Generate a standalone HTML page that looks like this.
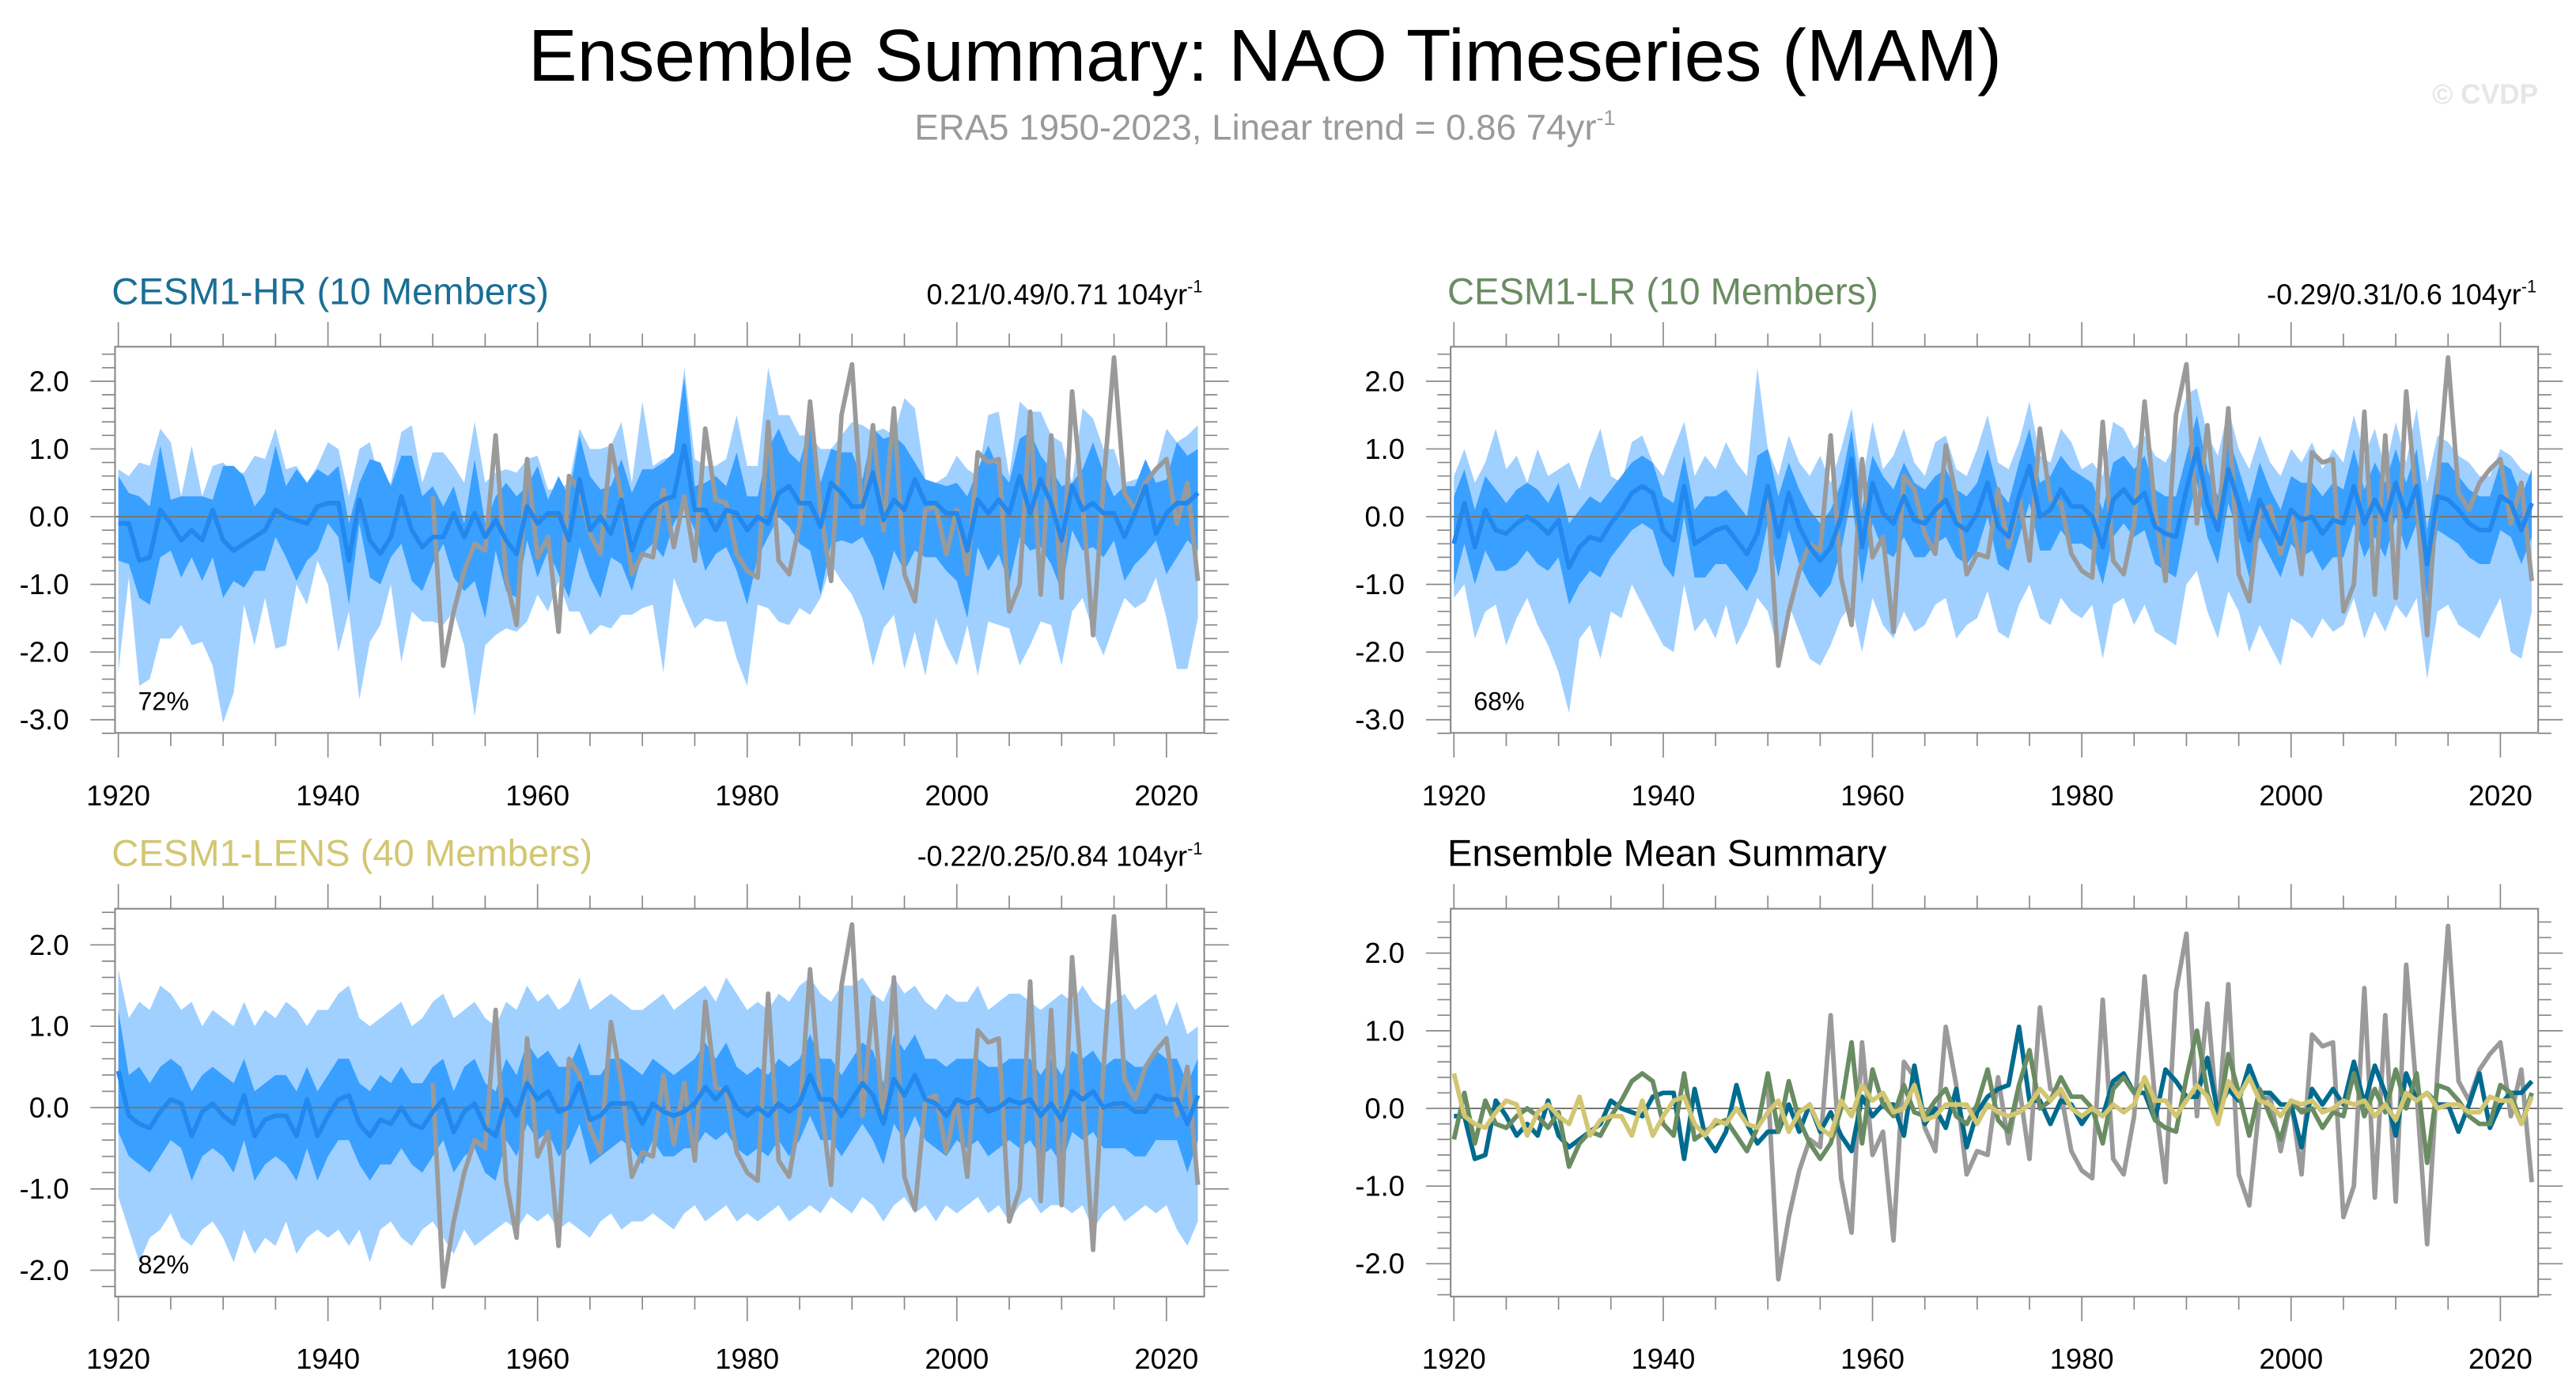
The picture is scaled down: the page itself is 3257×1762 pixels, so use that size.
<!DOCTYPE html>
<html><head><meta charset="utf-8"><style>
html,body{margin:0;padding:0;background:#fff;}
svg{display:block;font-family:"Liberation Sans",Arial,sans-serif;}
</style></head><body>
<svg id="chart" width="3257" height="1762" viewBox="0 0 1568 848.3" xmlns="http://www.w3.org/2000/svg">
<text x="770" y="49" font-size="44.6" text-anchor="middle" fill="#000">Ensemble Summary: NAO Timeseries (MAM)</text>
<text x="770" y="85" font-size="22" text-anchor="middle" fill="#9a9a9a">ERA5 1950-2023, Linear trend = 0.86 74yr<tspan dy="-9" font-size="13">-1</tspan></text>
<text x="1545" y="63" font-size="17" text-anchor="end" fill="#e6e6e6" font-weight="bold">© CVDP</text>
</svg>
<script>
const years = [];
for (let y = 1920; y <= 2023; y++) years.push(y);
const eraYears = [];
for (let y = 1950; y <= 2023; y++) eraYears.push(y);

const era5 = [0.3,-2.2,-1.4,-0.8,-0.4,-0.5,1.2,-0.9,-1.6,0.85,-0.6,-0.3,-1.7,0.6,0.4,-0.25,-0.55,1.05,0.3,-0.85,-0.55,-0.6,0.4,-0.45,0.3,-0.65,1.3,0.25,0.2,-0.55,-0.8,-0.9,1.4,-0.65,-0.85,-0.1,1.7,0.1,-0.95,1.5,2.25,-0.1,1.35,-0.2,1.6,-0.85,-1.25,0.1,0.15,-0.55,0.1,-0.85,0.95,0.8,0.85,-1.4,-1.0,1.55,-1.15,1.2,-1.2,1.85,0.2,-1.75,0.5,2.35,0.35,0.1,0.5,0.7,0.85,-0.1,0.5,-0.95];

const meanHR = [-0.1,-0.1,-0.65,-0.6,0.1,-0.1,-0.35,-0.2,-0.35,0.1,-0.35,-0.5,-0.4,-0.3,-0.2,0.1,0.0,-0.05,-0.1,0.15,0.2,0.2,-0.65,0.25,-0.35,-0.55,-0.3,0.3,-0.2,-0.45,-0.3,-0.3,0.05,-0.3,0.05,-0.3,-0.05,-0.35,-0.55,0.15,-0.1,0.05,0.05,-0.35,0.55,-0.2,0.0,-0.25,0.25,-0.5,-0.05,0.15,0.25,0.3,1.05,0.1,0.1,-0.2,0.1,0.05,-0.2,0.0,-0.1,0.35,0.45,0.2,0.2,-0.15,0.5,0.35,0.15,0.15,0.65,-0.05,0.25,0.1,0.55,0.2,0.2,0.05,0.05,-0.5,0.25,0.05,0.25,0.05,0.6,0.05,0.55,0.2,-0.35,0.45,0.1,0.2,0.05,0.05,-0.3,0.05,0.45,-0.25,0.05,0.2,0.2,0.35];
const meanLR = [-0.4,0.2,-0.45,0.1,-0.2,-0.25,-0.1,0.0,-0.1,-0.25,-0.05,-0.75,-0.45,-0.3,-0.35,-0.1,0.1,0.35,0.45,0.35,-0.2,-0.35,0.45,-0.4,-0.3,-0.2,-0.15,-0.35,-0.55,-0.25,0.45,-0.3,0.35,-0.15,-0.45,-0.65,-0.45,0.0,0.85,-0.45,0.5,0.05,-0.1,0.3,-0.05,-0.1,0.1,0.25,-0.1,-0.2,0.05,0.5,-0.15,-0.3,0.3,0.75,0.0,0.1,0.4,0.15,0.15,0.0,-0.45,0.25,0.4,0.2,0.35,-0.15,-0.25,-0.3,0.4,1.0,0.2,-0.2,0.7,0.2,-0.35,0.25,-0.1,-0.4,0.1,-0.05,0.0,-0.25,-0.05,-0.1,0.45,-0.1,0.25,-0.05,0.5,0.0,0.45,-0.7,0.3,0.25,0.1,-0.1,-0.2,-0.2,0.3,0.2,-0.2,0.2];
const meanLENS = [0.45,-0.1,-0.2,-0.25,-0.05,0.1,0.05,-0.35,-0.05,0.05,-0.1,-0.2,0.15,-0.35,-0.15,-0.1,-0.1,-0.35,0.1,-0.35,-0.1,0.1,0.15,-0.2,-0.35,-0.15,-0.2,0.0,-0.2,-0.25,-0.05,0.1,-0.3,-0.05,0.05,-0.25,-0.35,0.1,-0.1,0.3,0.1,0.2,-0.05,0.0,0.3,-0.15,-0.1,0.05,0.05,0.05,-0.2,0.05,-0.05,-0.1,-0.05,0.05,0.25,0.1,0.25,0.0,-0.1,0.0,-0.1,0.05,-0.05,0.05,0.4,0.1,0.1,-0.1,0.1,0.3,0.15,-0.2,0.35,0.15,0.4,0.1,0.05,-0.1,0.1,0.05,0.1,-0.05,0.0,0.1,0.05,0.1,-0.1,0.05,-0.15,0.2,0.1,0.2,0.0,0.05,0.05,-0.05,-0.05,0.15,0.1,0.1,-0.2,0.15];

const outerHiHR = [0.7,0.6,0.8,0.75,1.3,1.1,0.3,1.05,0.3,0.75,0.8,0.65,0.65,0.9,0.85,1.3,0.7,0.75,0.5,0.75,1.1,1.0,0.3,1.0,1.1,0.5,0.5,1.25,1.35,0.5,0.95,0.95,0.75,0.5,1.4,0.5,0.65,0.7,0.65,0.85,0.9,0.4,0.4,0.5,1.3,1.0,1.0,1.05,1.4,0.5,1.7,0.75,0.85,0.9,2.2,0.85,0.75,0.75,0.85,1.5,0.75,0.75,2.2,1.5,1.5,1.2,1.2,1.0,1.0,1.2,1.4,1.35,1.25,1.3,1.2,1.75,1.6,0.55,0.5,0.6,0.9,0.7,0.6,1.5,1.55,0.6,1.7,1.55,1.55,1.2,1.1,0.5,1.6,1.45,1.0,1.0,0.5,0.55,0.6,0.7,1.3,1.1,1.2,1.35];
const outerLoHR = [-2.3,-0.9,-2.5,-2.4,-1.8,-1.8,-1.6,-1.9,-1.85,-2.2,-3.05,-2.6,-1.3,-1.9,-1.2,-1.95,-1.9,-1.0,-1.3,-0.65,-1.0,-2.0,-1.4,-2.7,-1.85,-1.6,-1.0,-2.15,-1.4,-1.55,-1.55,-1.6,-1.4,-1.9,-2.95,-1.9,-1.75,-1.65,-1.7,-1.55,-1.15,-1.4,-0.95,-1.4,-1.4,-1.75,-1.6,-1.65,-1.45,-1.45,-1.35,-1.3,-2.3,-0.9,-1.3,-1.65,-1.5,-1.55,-1.55,-2.1,-2.5,-1.3,-1.35,-1.55,-1.6,-1.35,-1.45,-1.2,-0.7,-0.95,-1.15,-1.5,-2.2,-1.65,-1.45,-2.25,-1.7,-2.35,-1.5,-1.9,-2.2,-1.6,-2.35,-1.55,-1.6,-1.65,-2.2,-1.9,-1.55,-1.6,-2.2,-1.4,-1.2,-1.7,-2.05,-1.6,-1.2,-1.35,-1.25,-0.9,-1.5,-2.25,-2.25,-1.5];
const innerHiHR = [0.6,0.35,0.3,0.15,1.05,0.25,0.3,0.3,0.3,0.25,0.75,0.75,0.6,0.15,0.35,1.05,0.45,0.7,0.5,0.7,0.6,0.75,-0.1,0.5,0.85,0.8,0.45,0.9,0.9,0.3,0.45,0.15,0.45,-0.1,0.85,-0.1,0.3,0.5,0.3,0.45,0.75,0.25,0.6,0.3,1.2,0.6,0.4,0.45,0.85,0.35,0.7,0.7,0.8,0.95,2.05,0.45,0.5,0.6,0.45,0.95,0.3,0.3,1.0,1.3,0.95,0.8,1.35,0.5,1.0,0.95,0.95,0.55,1.3,1.15,1.2,1.05,0.8,0.55,0.5,0.45,0.5,0.3,0.7,1.05,0.7,0.5,1.15,1.25,0.9,0.7,0.45,0.5,0.7,1.1,0.65,0.3,0.45,0.45,0.85,0.5,0.55,1.1,0.9,1.0];
const innerLoHR = [-0.65,-0.7,-1.2,-1.3,-0.6,-0.5,-0.9,-0.6,-0.95,-0.6,-1.2,-0.95,-1.05,-0.8,-0.8,-0.3,-0.6,-0.95,-0.65,-0.5,-0.1,-0.3,-1.3,-0.1,-0.9,-1.0,-0.6,-0.4,-0.95,-1.1,-0.7,-0.4,-0.9,-1.1,-0.95,-1.5,-0.5,-1.1,-1.2,-0.35,-0.9,-0.5,-0.85,-1.2,-0.45,-0.9,-1.2,-0.6,-0.7,-1.1,-0.55,-0.4,-0.6,-0.1,0.15,-0.2,-0.8,-0.55,-0.45,-0.8,-1.3,-0.6,-0.3,0.0,-0.15,-0.4,-0.5,-1.15,-0.4,-0.35,-0.4,-0.3,-0.6,-1.1,-0.5,-0.8,-0.5,-0.6,-0.6,-0.8,-0.95,-1.5,-0.45,-0.8,-0.55,-1.0,-0.3,-0.5,-0.45,-0.7,-1.1,-0.2,-0.5,-0.45,-0.6,-0.35,-0.95,-0.7,-0.55,-0.35,-0.85,-0.6,-0.35,-0.5];

const outerHiLR = [0.6,1.0,0.5,0.8,1.3,0.7,0.9,0.5,1.0,0.6,0.7,0.8,0.4,0.9,1.3,0.6,0.5,1.1,1.2,0.8,0.6,1.0,1.4,0.6,0.9,0.7,1.1,0.8,0.6,2.2,1.0,0.6,1.2,0.8,0.6,0.9,0.5,1.0,1.6,0.5,1.4,0.7,0.9,1.3,0.8,0.6,1.1,1.2,0.7,0.6,1.0,1.5,0.8,0.7,1.1,1.7,0.9,0.8,1.3,1.1,0.7,0.8,0.6,1.4,1.3,1.0,1.2,0.9,0.8,1.1,1.8,1.9,1.2,0.9,1.6,1.0,0.7,1.2,0.8,0.6,1.0,0.8,1.1,0.7,1.0,0.8,1.5,0.9,1.3,0.7,1.4,0.8,1.6,0.5,1.2,1.1,0.9,0.8,0.6,0.6,1.0,0.9,0.7,0.6];
const outerLoLR = [-1.2,-1.0,-1.8,-1.4,-1.3,-1.9,-1.5,-1.2,-1.6,-1.9,-2.3,-2.9,-1.8,-1.6,-2.1,-1.4,-1.5,-1.0,-1.3,-1.6,-1.9,-2.0,-1.0,-1.7,-1.5,-1.8,-1.3,-1.9,-1.6,-1.2,-1.4,-2.0,-1.3,-1.7,-2.1,-2.2,-1.9,-1.5,-1.3,-2.0,-1.2,-1.6,-1.8,-1.4,-1.7,-1.6,-1.3,-1.2,-1.8,-1.6,-1.5,-1.1,-1.7,-1.8,-1.3,-1.0,-1.5,-1.6,-1.2,-1.4,-1.5,-1.3,-2.1,-1.3,-1.2,-1.6,-1.3,-1.7,-1.8,-1.9,-1.0,-0.8,-1.4,-1.8,-1.1,-1.4,-2.0,-1.6,-1.9,-2.2,-1.5,-1.6,-1.8,-1.5,-1.7,-1.6,-1.2,-1.8,-1.4,-1.7,-1.3,-1.5,-1.2,-2.4,-1.4,-1.3,-1.6,-1.7,-1.8,-1.5,-1.2,-2.0,-2.1,-1.4];
const innerHiLR = [0.3,0.7,0.1,0.6,0.4,0.2,0.4,0.5,0.4,0.2,0.5,-0.1,0.1,0.3,0.2,0.4,0.6,0.8,0.9,0.8,0.3,0.2,0.9,0.1,0.3,0.3,0.4,0.2,0.0,0.9,1.0,0.3,0.8,0.4,0.1,-0.1,0.1,0.5,1.3,0.1,0.9,0.6,0.4,0.8,0.5,0.4,0.6,0.7,0.4,0.3,0.5,1.0,0.4,0.2,0.8,1.3,0.5,0.6,0.9,0.7,0.6,0.5,0.1,0.8,0.9,0.7,0.9,0.4,0.3,0.3,0.9,1.5,0.7,0.3,1.2,0.7,0.2,0.8,0.4,0.1,0.6,0.5,0.5,0.3,0.5,0.4,1.0,0.4,0.8,0.5,1.0,0.5,1.0,-0.2,0.8,0.8,0.6,0.4,0.3,0.3,0.8,0.7,0.3,0.7];
const innerLoLR = [-1.0,-0.4,-1.0,-0.5,-0.8,-0.8,-0.7,-0.5,-0.7,-0.8,-0.6,-1.3,-1.0,-0.8,-0.9,-0.6,-0.4,-0.2,-0.1,-0.2,-0.7,-0.9,0.0,-0.9,-0.9,-0.7,-0.7,-0.9,-1.1,-0.8,-0.1,-0.9,-0.2,-0.7,-1.0,-1.2,-1.0,-0.5,0.3,-1.0,-0.1,-0.5,-0.6,-0.3,-0.6,-0.6,-0.4,-0.3,-0.6,-0.7,-0.5,0.0,-0.7,-0.8,-0.3,0.2,-0.5,-0.5,-0.2,-0.4,-0.4,-0.5,-1.0,-0.3,-0.1,-0.3,-0.2,-0.7,-0.8,-0.9,-0.1,0.5,-0.3,-0.7,0.2,-0.3,-0.9,-0.3,-0.6,-0.9,-0.4,-0.6,-0.5,-0.8,-0.6,-0.6,-0.1,-0.6,-0.3,-0.6,0.0,-0.5,-0.1,-1.2,-0.2,-0.3,-0.4,-0.6,-0.7,-0.7,-0.2,-0.3,-0.7,-0.3];

const outerHiLENS = [1.7,1.1,1.3,1.2,1.5,1.4,1.2,1.3,1.0,1.2,1.1,1.0,1.3,1.0,1.2,1.1,1.3,1.2,1.0,1.2,1.2,1.4,1.5,1.1,1.0,1.1,1.2,1.3,1.0,1.1,1.3,1.4,1.1,1.2,1.3,1.1,1.0,1.3,1.2,1.5,1.3,1.4,1.2,1.3,1.6,1.2,1.3,1.4,1.3,1.2,1.2,1.3,1.4,1.2,1.3,1.4,1.5,1.3,1.6,1.4,1.2,1.3,1.2,1.4,1.3,1.5,1.6,1.4,1.3,1.5,1.5,1.6,1.4,1.3,1.6,1.4,1.5,1.3,1.2,1.4,1.3,1.3,1.5,1.2,1.3,1.4,1.4,1.3,1.2,1.3,1.4,1.3,1.5,1.3,1.2,1.3,1.4,1.2,1.3,1.4,1.0,1.3,0.9,1.0];
const outerLoLENS = [-1.1,-1.5,-1.9,-1.6,-1.5,-1.3,-1.6,-1.7,-1.5,-1.4,-1.6,-1.9,-1.5,-1.8,-1.6,-1.7,-1.4,-1.8,-1.6,-1.5,-1.6,-1.5,-1.7,-1.5,-1.9,-1.5,-1.4,-1.6,-1.7,-1.5,-1.4,-1.6,-1.8,-1.5,-1.7,-1.6,-1.5,-1.4,-1.5,-1.3,-1.4,-1.3,-1.5,-1.4,-1.5,-1.6,-1.4,-1.3,-1.5,-1.4,-1.4,-1.3,-1.4,-1.5,-1.3,-1.2,-1.4,-1.3,-1.2,-1.4,-1.3,-1.4,-1.3,-1.2,-1.4,-1.3,-1.2,-1.3,-1.1,-1.2,-1.3,-1.1,-1.2,-1.4,-1.2,-1.1,-1.3,-1.2,-1.4,-1.2,-1.3,-1.2,-1.1,-1.3,-1.2,-1.4,-1.2,-1.1,-1.3,-1.2,-1.2,-1.3,-1.2,-1.5,-1.3,-1.2,-1.4,-1.3,-1.2,-1.3,-1.2,-1.5,-1.7,-1.4];
const innerHiLENS = [1.2,0.4,0.5,0.3,0.5,0.6,0.5,0.2,0.4,0.5,0.4,0.3,0.6,0.2,0.3,0.4,0.4,0.2,0.5,0.2,0.4,0.6,0.6,0.3,0.2,0.4,0.3,0.5,0.3,0.3,0.5,0.6,0.2,0.5,0.6,0.3,0.2,0.6,0.4,0.8,0.6,0.7,0.5,0.5,0.8,0.4,0.4,0.6,0.6,0.5,0.4,0.6,0.5,0.4,0.5,0.6,0.8,0.6,0.8,0.5,0.4,0.5,0.4,0.6,0.5,0.6,0.9,0.6,0.6,0.4,0.6,0.8,0.7,0.3,0.9,0.7,0.9,0.6,0.6,0.5,0.6,0.6,0.6,0.5,0.5,0.6,0.6,0.6,0.4,0.6,0.4,0.7,0.6,0.7,0.5,0.6,0.6,0.5,0.5,0.7,0.6,0.6,0.3,0.6];
const innerLoLENS = [-0.3,-0.6,-0.7,-0.8,-0.6,-0.4,-0.5,-0.9,-0.6,-0.5,-0.6,-0.8,-0.4,-0.9,-0.7,-0.6,-0.7,-0.9,-0.5,-0.9,-0.6,-0.4,-0.4,-0.7,-0.9,-0.7,-0.7,-0.5,-0.7,-0.8,-0.6,-0.4,-0.8,-0.6,-0.5,-0.8,-0.9,-0.4,-0.6,-0.2,-0.4,-0.3,-0.6,-0.5,-0.2,-0.7,-0.6,-0.5,-0.4,-0.5,-0.7,-0.4,-0.6,-0.6,-0.5,-0.5,-0.3,-0.4,-0.3,-0.5,-0.6,-0.5,-0.6,-0.4,-0.6,-0.4,-0.1,-0.4,-0.4,-0.6,-0.4,-0.2,-0.4,-0.7,-0.2,-0.4,-0.1,-0.4,-0.5,-0.6,-0.4,-0.5,-0.4,-0.6,-0.5,-0.4,-0.5,-0.4,-0.6,-0.5,-0.7,-0.3,-0.4,-0.3,-0.5,-0.5,-0.5,-0.6,-0.6,-0.4,-0.4,-0.4,-0.8,-0.4];

const yTicksTop = [2.0,1.0,0.0,-1.0,-2.0,-3.0];
const yTickLabelsTop = ["2.0","1.0","0.0","-1.0","-2.0","-3.0"];
const yTicksBot = [2.0,1.0,0.0,-1.0,-2.0];
const yTickLabelsBot = ["2.0","1.0","0.0","-1.0","-2.0"];
const xTicks = [1920,1940,1960,1980,2000,2020];

const NS = "http://www.w3.org/2000/svg";
const svg = document.getElementById("chart");
function el(tag, attrs, parent) {
  const e = document.createElementNS(NS, tag);
  for (const k in attrs) e.setAttribute(k, attrs[k]);
  (parent || svg).appendChild(e);
  return e;
}

function panel(cfg) {
  const g = el("g", {});
  
  
  const xs = yr => cfg.x1920 + (yr - 1920) * cfg.pxYr;
  const ys = v => cfg.y0 - v * cfg.pxUnit;
  const L = cfg.left, R = cfg.right, T = cfg.top, B = cfg.bottom;
  const clipId = "clip-" + cfg.name;
  const cp = el("clipPath", {id: clipId}, g);
  el("rect", {x: L, y: T, width: R - L, height: B - T}, cp);
  const plot = el("g", {"clip-path": "url(#" + clipId + ")"}, g);

  function band(hi, lo, color, nm) {
    let d = "";
    years.forEach((y, i) => { d += (i ? "L" : "M") + xs(y).toFixed(2) + "," + ys(hi[i]).toFixed(2); });
    for (let i = years.length - 1; i >= 0; i--) d += "L" + xs(years[i]).toFixed(2) + "," + ys(lo[i]).toFixed(2);
    const p = el("path", {d: d + "Z", fill: color, stroke: "none"}, plot);
    
    
  }
  function line(xv, vals, color, w, nm) {
    const d = vals.map((v, i) => (i ? "L" : "M") + xs(xv[i]).toFixed(2) + "," + ys(v).toFixed(2)).join("");
    const p = el("path", {d: d, fill: "none", stroke: color, "stroke-width": w, "stroke-linejoin": "round"}, plot);
    
    
  }
  if (cfg.outerHi) {
    band(cfg.outerHi, cfg.outerLo, "#a0d0ff", "outer-spread-band");
    band(cfg.innerHi, cfg.innerLo, "#3aa0ff", "inner-spread-band");
  }
  const z = el("line", {x1: L, x2: R, y1: ys(0), y2: ys(0), stroke: "#777", "stroke-width": 1}, plot);
  
  
  if (cfg.summary) {
    line(eraYears, era5, "#9a9a9a", 2.8, "era5-line");
    line(years, meanHR, "#006b8f", 2.8, "hr-mean-line");
    line(years, meanLR, "#6a8c62", 2.8, "lr-mean-line");
    line(years, meanLENS, "#d2c672", 2.8, "lens-mean-line");
  } else {
    line(eraYears, era5, "#9a9a9a", 2.8, "era5-line");
    line(years, cfg.mean, "#2288ee", 2.8, "ensemble-mean-line");
  }
  const box = el("rect", {x: L, y: T, width: R - L, height: B - T, fill: "none", stroke: "#888", "stroke-width": 1}, g);
  
  

  const tk = el("g", {stroke: "#888", "stroke-width": 0.8}, g);
  
  
  for (let y = 1920; y <= 2023; y += 5) {
    const len = (y % 20 === 0) ? 15 : 8;
    const x = xs(y);
    el("line", {x1: x, x2: x, y1: T, y2: T - len}, tk);
    el("line", {x1: x, x2: x, y1: B, y2: B + len}, tk);
  }
  for (let k = Math.ceil(cfg.vmin * 5); k <= Math.floor(cfg.vmax * 5); k++) {
    const len = (k % 5 === 0) ? 15 : 8;
    const y = ys(k / 5);
    el("line", {x1: L, x2: L - len, y1: y, y2: y}, tk);
    el("line", {x1: R, x2: R + len, y1: y, y2: y}, tk);
  }
  cfg.yTicks.forEach((v, i) => {
    const t = el("text", {x: L - 28, y: ys(v) + 6, "font-size": 17.5, "text-anchor": "end", fill: "#000"}, g);
    t.textContent = cfg.yLabels[i];
    
    
  });
  xTicks.forEach(v => {
    const t = el("text", {x: xs(v), y: B + 44, "font-size": 17.5, "text-anchor": "middle", fill: "#000"}, g);
    t.textContent = String(v);
    
    
  });
  const title = el("text", {x: L - 2, y: T - 26, "font-size": 22.7, fill: cfg.titleColor}, g);
  title.textContent = cfg.title;
  
  
  if (cfg.trend) {
    const tr = el("text", {x: R - 1, y: T - 26, "font-size": 17.3, "text-anchor": "end", fill: "#000"}, g);
    tr.textContent = cfg.trend;
    const sp = el("tspan", {dy: -7, "font-size": 10.5}, tr);
    sp.textContent = "-1";
    
    
  }
  if (cfg.pct) {
    const pt = el("text", {x: L + 14, y: B - 14, "font-size": 15.5, fill: "#000"}, g);
    pt.textContent = cfg.pct;
    
    
  }
}

panel({name: "panel-cesm1-hr", left: 70, right: 733, top: 211, bottom: 446, x1920: 72, pxYr: 6.38, y0: 314.4, pxUnit: 41.2, vmin: -3.2, vmax: 2.5,
  yTicks: yTicksTop, yLabels: yTickLabelsTop, title: "CESM1-HR (10 Members)", titleColor: "#1b6e95", trend: "0.21/0.49/0.71 104yr", pct: "72%",
  mean: meanHR, outerHi: outerHiHR, outerLo: outerLoHR, innerHi: innerHiHR, innerLo: innerLoHR});
panel({name: "panel-cesm1-lr", left: 883, right: 1545, top: 211, bottom: 446, x1920: 885, pxYr: 6.37, y0: 314.4, pxUnit: 41.2, vmin: -3.2, vmax: 2.5,
  yTicks: yTicksTop, yLabels: yTickLabelsTop, title: "CESM1-LR (10 Members)", titleColor: "#6a8c62", trend: "-0.29/0.31/0.6 104yr", pct: "68%",
  mean: meanLR, outerHi: outerHiLR, outerLo: outerLoLR, innerHi: innerHiLR, innerLo: innerLoLR});
panel({name: "panel-cesm1-lens", left: 70, right: 733, top: 553, bottom: 789, x1920: 72, pxYr: 6.38, y0: 674, pxUnit: 49.5, vmin: -2.3, vmax: 2.4,
  yTicks: yTicksBot, yLabels: yTickLabelsBot, title: "CESM1-LENS (40 Members)", titleColor: "#d2c672", trend: "-0.22/0.25/0.84 104yr", pct: "82%",
  mean: meanLENS, outerHi: outerHiLENS, outerLo: outerLoLENS, innerHi: innerHiLENS, innerLo: innerLoLENS});
panel({name: "panel-ensemble-mean-summary", left: 883, right: 1545, top: 553, bottom: 789, x1920: 885, pxYr: 6.37, y0: 674.5, pxUnit: 47.25, vmin: -2.4, vmax: 2.5,
  yTicks: yTicksBot, yLabels: yTickLabelsBot, title: "Ensemble Mean Summary", titleColor: "#000", summary: true});
</script>
</body></html>
